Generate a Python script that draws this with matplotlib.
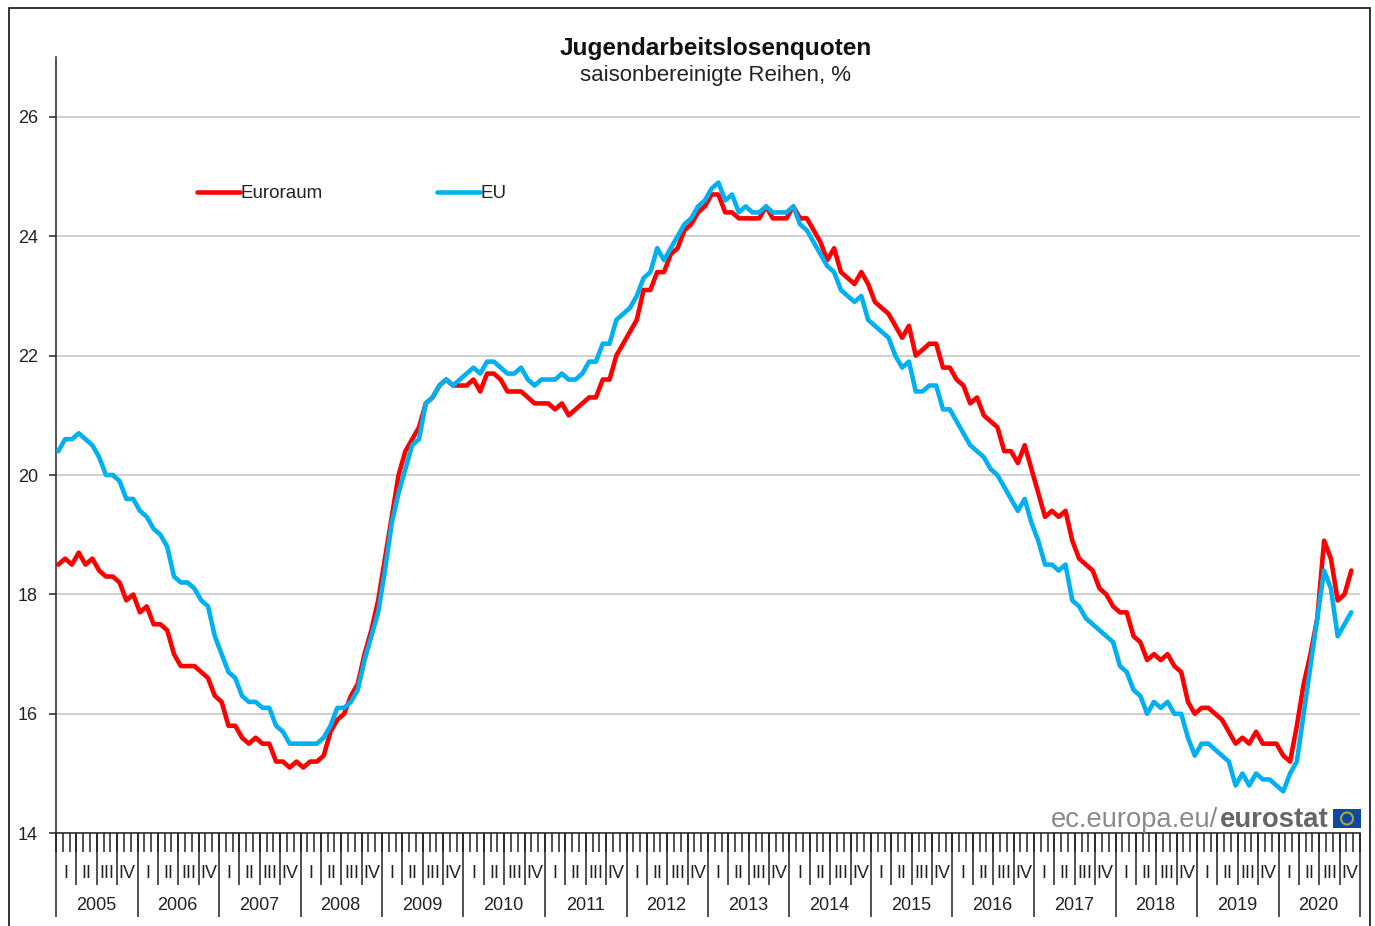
import matplotlib
matplotlib.use("Agg")
import matplotlib.pyplot as plt
from matplotlib.lines import Line2D
from matplotlib.patches import Rectangle, Circle
import numpy as np

plt.rcParams['font.family'] = ['Liberation Sans', 'DejaVu Sans']

years = list(range(2005, 2021))
quarters = ['I', 'II', 'III', 'IV']
yticks = [14, 16, 18, 20, 22, 24, 26]

euroraum = [
    18.5,18.6,18.5,18.7,18.5,18.6,18.4,18.3,18.3,18.2,17.9,18.0,
    17.7,17.8,17.5,17.5,17.4,17.0,16.8,16.8,16.8,16.7,16.6,16.3,
    16.2,15.8,15.8,15.6,15.5,15.6,15.5,15.5,15.2,15.2,15.1,15.2,
    15.1,15.2,15.2,15.3,15.7,15.9,16.0,16.3,16.5,17.0,17.4,17.9,
    18.6,19.3,20.0,20.4,20.6,20.8,21.2,21.3,21.5,21.6,21.5,21.5,
    21.5,21.6,21.4,21.7,21.7,21.6,21.4,21.4,21.4,21.3,21.2,21.2,
    21.2,21.1,21.2,21.0,21.1,21.2,21.3,21.3,21.6,21.6,22.0,22.2,
    22.4,22.6,23.1,23.1,23.4,23.4,23.7,23.8,24.1,24.2,24.4,24.5,
    24.7,24.7,24.4,24.4,24.3,24.3,24.3,24.3,24.5,24.3,24.3,24.3,
    24.5,24.3,24.3,24.1,23.9,23.6,23.8,23.4,23.3,23.2,23.4,23.2,
    22.9,22.8,22.7,22.5,22.3,22.5,22.0,22.1,22.2,22.2,21.8,21.8,
    21.6,21.5,21.2,21.3,21.0,20.9,20.8,20.4,20.4,20.2,20.5,20.1,
    19.7,19.3,19.4,19.3,19.4,18.9,18.6,18.5,18.4,18.1,18.0,17.8,
    17.7,17.7,17.3,17.2,16.9,17.0,16.9,17.0,16.8,16.7,16.2,16.0,
    16.1,16.1,16.0,15.9,15.7,15.5,15.6,15.5,15.7,15.5,15.5,15.5,
    15.3,15.2,15.8,16.5,17.0,17.6,18.9,18.6,17.9,18.0,18.4]

eu = [
    20.4,20.6,20.6,20.7,20.6,20.5,20.3,20.0,20.0,19.9,19.6,19.6,
    19.4,19.3,19.1,19.0,18.8,18.3,18.2,18.2,18.1,17.9,17.8,17.3,
    17.0,16.7,16.6,16.3,16.2,16.2,16.1,16.1,15.8,15.7,15.5,15.5,
    15.5,15.5,15.5,15.6,15.8,16.1,16.1,16.2,16.4,16.9,17.3,17.7,
    18.4,19.2,19.7,20.1,20.5,20.6,21.2,21.3,21.5,21.6,21.5,21.6,
    21.7,21.8,21.7,21.9,21.9,21.8,21.7,21.7,21.8,21.6,21.5,21.6,
    21.6,21.6,21.7,21.6,21.6,21.7,21.9,21.9,22.2,22.2,22.6,22.7,
    22.8,23.0,23.3,23.4,23.8,23.6,23.8,24.0,24.2,24.3,24.5,24.6,
    24.8,24.9,24.6,24.7,24.4,24.5,24.4,24.4,24.5,24.4,24.4,24.4,
    24.5,24.2,24.1,23.9,23.7,23.5,23.4,23.1,23.0,22.9,23.0,22.6,
    22.5,22.4,22.3,22.0,21.8,21.9,21.4,21.4,21.5,21.5,21.1,21.1,
    20.9,20.7,20.5,20.4,20.3,20.1,20.0,19.8,19.6,19.4,19.6,19.2,
    18.9,18.5,18.5,18.4,18.5,17.9,17.8,17.6,17.5,17.4,17.3,17.2,
    16.8,16.7,16.4,16.3,16.0,16.2,16.1,16.2,16.0,16.0,15.6,15.3,
    15.5,15.5,15.4,15.3,15.2,14.8,15.0,14.8,15.0,14.9,14.9,14.8,
    14.7,15.0,15.2,16.0,16.8,17.6,18.4,18.1,17.3,17.5,17.7]

W, H = 1375, 926
fx = lambda px: px / W
fy = lambda py: 1 - py / H

fig = plt.figure(figsize=(W / 100, H / 100), dpi=100, facecolor='white')

L, R, T, B = 56, 1360, 57.2, 833.2
ax = fig.add_axes([fx(L), fy(B), fx(R) - fx(L), (B - T) / H])
ax.set_xlim(0, 192)
ax.set_ylim(14, 27)

for s in ['top', 'right']:
    ax.spines[s].set_visible(False)
for s in ['left', 'bottom']:
    ax.spines[s].set_linewidth(1.1)
    ax.spines[s].set_color('#222222')

ax.set_yticks(yticks)
ax.tick_params(axis='y', length=5, width=1.1, color='#222222', pad=8, labelsize=13, labelcolor='#222222')
ax.yaxis.grid(True, color='#c4c4c4', lw=1.1)
ax.set_axisbelow(True)

months = np.arange(0, 193)
ax.set_xticks(months)
ax.set_xticklabels([])
ax.tick_params(axis='x', length=13.5, width=1.1, color='#222222')

# quarter and year ticks, in pixels below the axis
def axis_frac(py):
    return (B - py) / (B - T)

for q in np.arange(0, 193, 3):
    if q % 12 == 0:
        ax.plot([q, q], [0, axis_frac(917)], transform=ax.get_xaxis_transform(),
                color='#222222', lw=1.1, clip_on=False, solid_capstyle='butt')
    else:
        ax.plot([q, q], [0, axis_frac(885)], transform=ax.get_xaxis_transform(),
                color='#222222', lw=1.1, clip_on=False, solid_capstyle='butt')

for k, y in enumerate(years):
    ax.text(12 * k + 5.9, axis_frac(906), str(y), transform=ax.get_xaxis_transform(),
            ha='center', va='center', fontsize=13, color='#222222')
    for j, q in enumerate(quarters):
        ax.text(12 * k + 3 * j + 1.5, axis_frac(873.5), q, transform=ax.get_xaxis_transform(),
                ha='center', va='center', fontsize=13, color='#222222')

x = np.linspace(0.34, 190.72, len(euroraum))
ax.plot(x, euroraum, color='#ff0000', lw=3.3, solid_joinstyle='round', solid_capstyle='round', zorder=3)
ax.plot(x, eu, color='#00b0f0', lw=3.3, solid_joinstyle='round', solid_capstyle='round', zorder=4)

# titles
fig.text(fx(716), fy(48.5), 'Jugendarbeitslosenquoten', ha='center', va='center',
         fontsize=17.6, fontweight='bold', color='#111111')
fig.text(fx(715), fy(75.5), 'saisonbereinigte Reihen, %', ha='center', va='center',
         fontsize=16, color='#222222')

# legend
for (x0, x1, col, lab) in [(197, 240, '#ff0000', 'Euroraum'), (437, 480, '#00b0f0', 'EU')]:
    fig.add_artist(Line2D([fx(x0), fx(x1)], [fy(191.5), fy(191.5)], color=col, lw=3.3,
                          solid_capstyle='round', transform=fig.transFigure))
    fig.text(fx(x1 + 1), fy(193.5), lab, ha='left', va='center', fontsize=13.5, color='#222222')

# outer frame
fig.add_artist(Rectangle((fx(9), fy(960)), fx(1370) - fx(9), (960 - 8) / H,
                         transform=fig.transFigure, fill=False, ec='#111111', lw=1.2))

# eurostat mark
fig.text(fx(1218), fy(827), 'ec.europa.eu/', ha='right', va='baseline', fontsize=19.7, color='#8a8a8a')
fig.text(fx(1220), fy(827), 'eurostat', ha='left', va='baseline', fontsize=19.8,
         fontweight='bold', color='#666666')
fig.add_artist(Rectangle((fx(1333), fy(828)), fx(1361) - fx(1333), 19 / H,
                         transform=fig.transFigure, fc='#0f47a1', ec='none'))
ring_center = fig.transFigure.transform((fx(1347), fy(818.5)))
fig.add_artist(Circle(ring_center, 6, transform=None, fill=False, ec='#a8a83a', lw=1.5))

fig.savefig('out.png', dpi=100, facecolor='white')
